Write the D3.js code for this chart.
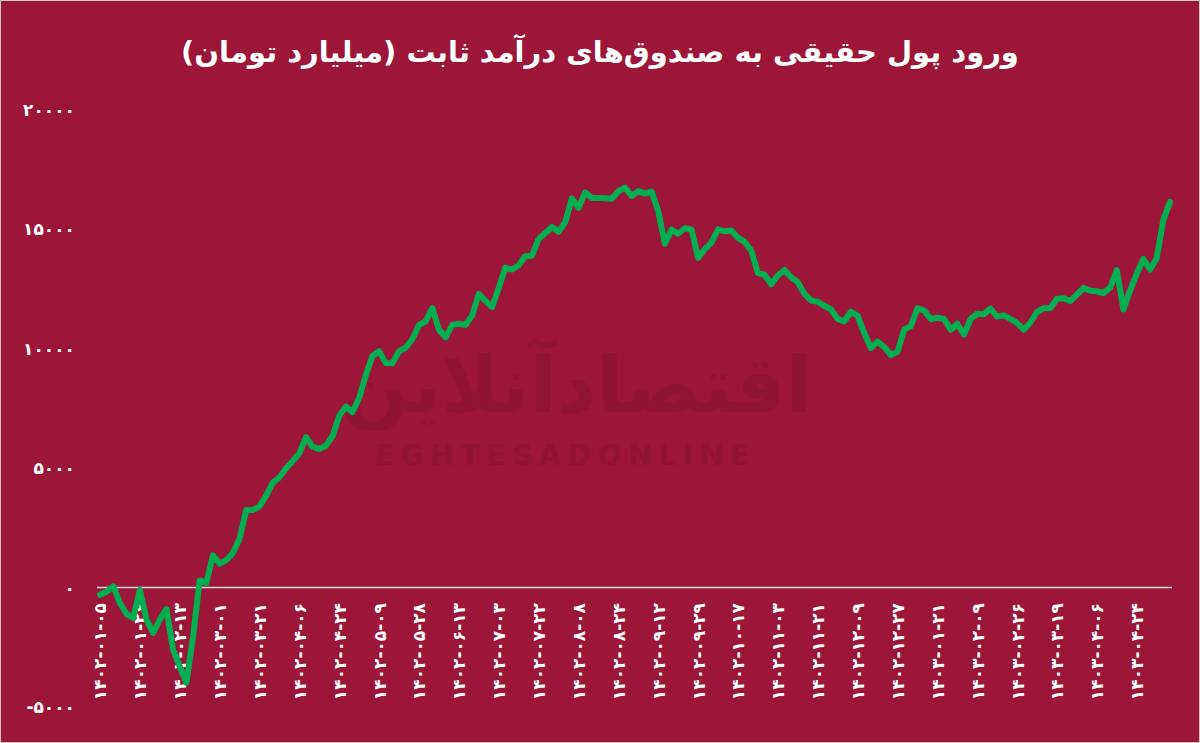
<!DOCTYPE html>
<html>
<head>
<meta charset="utf-8">
<script src="https://cdn.jsdelivr.net/npm/d3@7"></script>
<style>
  html, body { margin: 0; padding: 0; background: #9c1639; }
  svg { display: block; }
</style>
</head>
<body>
<svg id="chart" width="1200" height="743"></svg>
<script>
// ---- data ----
const chartTitle = "ورود پول حقیقی به صندوق‌های درآمد ثابت (میلیارد تومان)";

const xTickLabels = [
  "۱۴۰۲-۰۱-۰۵", "۱۴۰۲-۰۱-۲۶", "۱۴۰۲-۰۲-۱۳", "۱۴۰۲-۰۳-۰۱", "۱۴۰۲-۰۳-۲۱",
  "۱۴۰۲-۰۴-۰۶", "۱۴۰۲-۰۴-۲۴", "۱۴۰۲-۰۵-۰۹", "۱۴۰۲-۰۵-۲۸", "۱۴۰۲-۰۶-۱۳",
  "۱۴۰۲-۰۷-۰۳", "۱۴۰۲-۰۷-۲۲", "۱۴۰۲-۰۸-۰۸", "۱۴۰۲-۰۸-۲۴", "۱۴۰۲-۰۹-۱۲",
  "۱۴۰۲-۰۹-۲۹", "۱۴۰۲-۱۰-۱۷", "۱۴۰۲-۱۱-۰۳", "۱۴۰۲-۱۱-۲۱", "۱۴۰۲-۱۲-۰۹",
  "۱۴۰۲-۱۲-۲۷", "۱۴۰۳-۰۱-۲۱", "۱۴۰۳-۰۲-۰۹", "۱۴۰۳-۰۲-۲۶", "۱۴۰۳-۰۳-۱۹",
  "۱۴۰۳-۰۴-۰۶", "۱۴۰۳-۰۴-۲۴"
];
const pointsPerLabel = 6;

const yTicks = [-5000, 0, 5000, 10000, 15000, 20000];

const inflow = [
  -300, -170, 50, -650, -1100, -1270, -100, -1340, -1900, -1340,
  -900, -2600, -3300, -3990, -2050, 300, 200, 1350, 1000, 1150,
  1450, 2050, 3250, 3250, 3400, 3850, 4400, 4620, 5000, 5300,
  5620, 6300, 5900, 5800, 5950, 6350, 7200, 7580, 7350, 7950,
  8900, 9700, 9900, 9400, 9400, 9900, 10050, 10400, 11000, 11150,
  11700, 10800, 10480, 11000, 11050, 11000, 11400, 12300, 12000, 11750,
  12560, 13400, 13320, 13500, 13880, 13900, 14600, 14850, 15100, 14900,
  15300, 16300, 15900, 16550, 16320, 16320, 16300, 16280, 16600, 16750,
  16400, 16600, 16500, 16580, 15760, 14400, 15000, 14820, 15050, 15000,
  13810, 14170, 14450, 15000, 14920, 14950, 14650, 14480, 14100, 13170,
  13100, 12700, 13080, 13300, 12990, 12790, 12300, 12030, 11970, 11800,
  11650, 11250, 11150, 11550, 11380, 10650, 10030, 10300, 10080, 9740,
  9870, 10800, 10950, 11700, 11600, 11250, 11300, 11250, 10800, 11050,
  10600, 11250, 11470, 11450, 11680, 11350, 11400, 11250, 11080, 10800,
  11100, 11550, 11700, 11710, 12100, 12120, 12000, 12270, 12550, 12430,
  12410, 12330, 12560, 13300, 11650, 12450, 13150, 13760, 13320, 13800,
  15400, 16150
];

// ---- drawing ----
const W = 1200, H = 743;
const bg = "#9c1639";
const lineColor = "#00b050";
const toFa = s => String(s).replace(/\d/g, d => "۰۱۲۳۴۵۶۷۸۹"[+d]);

const svg = d3.select("#chart");
svg.append("rect").attr("width", W).attr("height", H).attr("fill", bg)
  .attr("stroke", "#c9c9c9").attr("stroke-width", 2);

const x = d3.scaleLinear().domain([0, inflow.length - 1]).range([100, 1170]);
const y = d3.scaleLinear().domain([-5000, 20000]).range([707, 110]);

// watermark
const wm = svg.append("g").attr("fill", "#000").attr("opacity", 0.07);
wm.append("text")
  .attr("x", 577).attr("y", 412)
  .attr("text-anchor", "middle")
  .attr("font-family", "DejaVu Sans")
  .attr("font-weight", "bold")
  .attr("font-size", 78)
  .attr("direction", "rtl")
  .text("اقتصادآنلاین");
wm.append("text")
  .attr("x", 565).attr("y", 465)
  .attr("text-anchor", "middle")
  .attr("font-family", "DejaVu Sans")
  .attr("font-weight", "bold")
  .attr("font-size", 29)
  .attr("letter-spacing", 6)
  .text("EGHTESADONLINE");

// title
svg.append("text")
  .attr("x", 600).attr("y", 62)
  .attr("text-anchor", "middle")
  .attr("direction", "rtl")
  .attr("font-family", "DejaVu Sans")
  .attr("font-weight", "bold")
  .attr("font-size", 29)
  .attr("fill", "#ffffff")
  .text(chartTitle);

// y axis
const yAxis = d3.axisLeft(y).tickValues(yTicks).tickSize(0).tickPadding(0)
  .tickFormat(d => toFa(d));
const yg = svg.append("g").attr("transform", "translate(75,0)").call(yAxis);
yg.select(".domain").remove();
yg.selectAll("text")
  .attr("fill", "#ffffff")
  .attr("font-family", "DejaVu Sans")
  .attr("font-weight", "bold")
  .attr("font-size", 17)
  .attr("direction", "ltr");

// zero line
svg.append("line")
  .attr("x1", 97).attr("x2", 1172)
  .attr("y1", y(0)).attr("y2", y(0))
  .attr("stroke", "#d9d9d9").attr("stroke-width", 1.5);

// x tick labels
const tickIdx = xTickLabels.map((_, i) => i * pointsPerLabel);
const xAxis = d3.axisBottom(x).tickValues(tickIdx).tickSize(0).tickPadding(0)
  .tickFormat((d, i) => xTickLabels[i]);
const xg = svg.append("g").attr("transform", "translate(0,603)").call(xAxis);
xg.select(".domain").remove();
xg.selectAll("text")
  .attr("fill", "#ffffff")
  .attr("font-family", "DejaVu Sans")
  .attr("font-weight", "bold")
  .attr("font-size", 17)
  .attr("direction", "ltr")
  .attr("text-anchor", "end")
  .attr("transform", "rotate(-90)")
  .attr("x", 0).attr("y", 0).attr("dy", "0.35em");

// line
const line = d3.line().x((d, i) => x(i)).y(d => y(d)).curve(d3.curveLinear);
svg.append("path")
  .datum(inflow)
  .attr("fill", "none")
  .attr("stroke", lineColor)
  .attr("stroke-width", 6)
  .attr("stroke-linejoin", "round")
  .attr("stroke-linecap", "round")
  .attr("d", line);
</script>
</body>
</html>
